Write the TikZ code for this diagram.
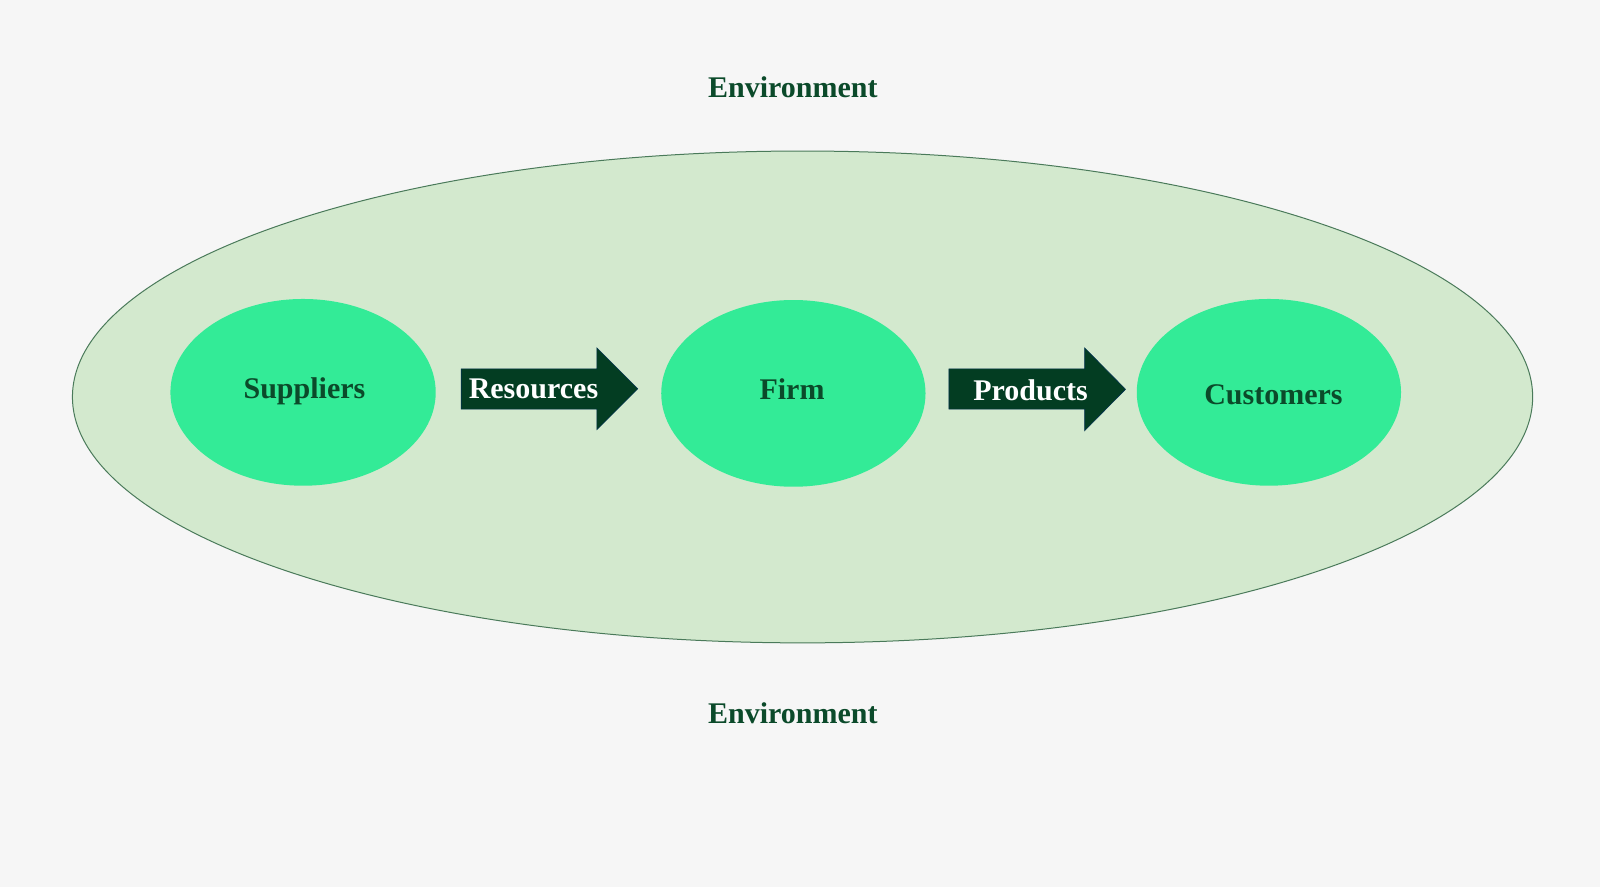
\documentclass[tikz,border=0pt]{standalone}
\usepackage{fontspec}
\setmainfont{Liberation Serif}
\usetikzlibrary{shapes.geometric}
\definecolor{bg}{HTML}{F6F6F6}
\definecolor{envfill}{HTML}{D3E9CE}
\definecolor{envline}{HTML}{4A7A5A}
\definecolor{blob}{HTML}{33EB97}
\definecolor{txt}{HTML}{0B4A2A}
\definecolor{arr}{HTML}{033D22}
\begin{document}
\begin{tikzpicture}[x=1.0204pt,y=-1.0204pt,
  lbl/.style={font=\bfseries\fontsize{30}{36}\selectfont, text=txt, inner sep=0pt, anchor=base},
  wlbl/.style={font=\bfseries\fontsize{30}{36}\selectfont, text=white, inner sep=0pt, anchor=base},
  arrowshape/.style={fill=arr, draw=arr!80!blue, line width=0.6pt}]
\useasboundingbox (0,0) rectangle (1568,869.25);
\fill[bg] (0,0) rectangle (1568,869.25);
% environment ellipse
\draw[fill=envfill, draw=envline, line width=1pt] (786.5,389) ellipse [x radius=715.5, y radius=241];
% inner ellipses
\fill[blob] (297,384.5) ellipse [x radius=130, y radius=91.5];
\fill[blob] (777.5,385.5) ellipse [x radius=129.5, y radius=91.5];
\fill[blob] (1243.5,384.5) ellipse [x radius=129.5, y radius=91.5];
% arrows
\draw[arrowshape] (452,361.5) -- (585,361.5) -- (585,341) -- (625,381) -- (585,421) -- (585,401) -- (452,401) -- cycle;
\draw[arrowshape] (930,361.5) -- (1063,361.5) -- (1063,341) -- (1103,381.5) -- (1063,422) -- (1063,401) -- (930,401) -- cycle;
% labels
\node[lbl] (envtop) at (777,96) {Environment};
\node[lbl] (envbot) at (777,708.8) {Environment};
\node[lbl] (sup) at (298.4,390.5) {Suppliers};
\node[lbl] (firm) at (776.2,391.8) {Firm};
\node[lbl] (cust) at (1248,396.7) {Customers};
\node[wlbl] (res) at (522.8,390.3) {Resources};
\node[wlbl] (prod) at (1009.9,392.8) {Products};
\end{tikzpicture}
\end{document}
